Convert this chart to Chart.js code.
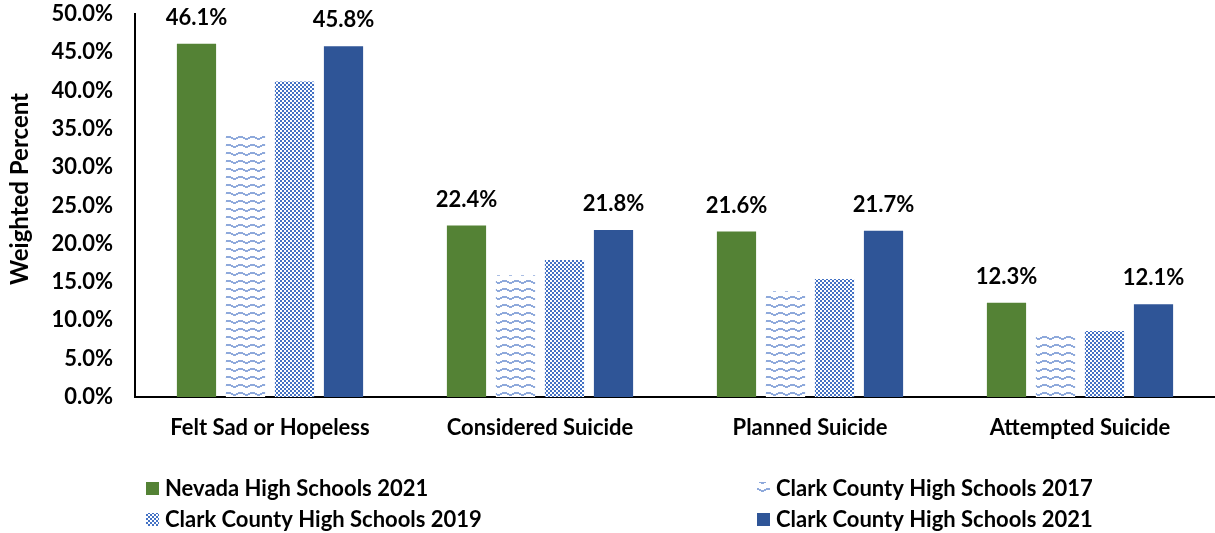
<!DOCTYPE html>
<html>
<head>
<meta charset="utf-8">
<script src="https://cdn.jsdelivr.net/npm/chart.js@4.4.0/dist/chart.umd.min.js"></script>
<style>
  html, body { margin: 0; padding: 0; background: #ffffff; }
  #wrap { width: 1215px; height: 533px; position: relative; }
</style>
</head>
<body>
<div id="wrap"><canvas id="chart" width="1215" height="533"></canvas></div>
<script>
// Categories and series (weighted percent)
const categories = ['Felt Sad or Hopeless', 'Considered Suicide', 'Planned Suicide', 'Attempted Suicide'];
const seriesNames = ['Nevada High Schools 2021', 'Clark County High Schools 2017', 'Clark County High Schools 2019', 'Clark County High Schools 2021'];
const nevada2021 = [46.1, 22.4, 21.6, 12.3];
const clark2017 = [34.4, 15.9, 13.8, 8.3];
const clark2019 = [41.2, 17.9, 15.4, 8.6];
const clark2021 = [45.8, 21.8, 21.7, 12.1];
const yTicks = [0, 5, 10, 15, 20, 25, 30, 35, 40, 45, 50];
const yTitle = 'Weighted Percent';

const FONT = 'Lato, Carlito, Calibri, "DejaVu Sans", sans-serif';

// Wavy line fill (light blue zigzag on white)
function wavePattern() {
  const c = document.createElement('canvas');
  c.width = 12; c.height = 8;
  const x = c.getContext('2d');
  x.fillStyle = '#ffffff'; x.fillRect(0, 0, 12, 8);
  x.fillStyle = '#8EA9DB';
  // [x, y, width] runs, each 2px tall
  const runs = [[0, 0, 3], [3, 1, 2], [5, 2, 3], [8, 1, 2], [10, 0, 2]];
  runs.forEach(([px, py, w]) => x.fillRect(px, py, w, 2));
  return x.createPattern(c, 'repeat');
}
// Small checkerboard fill
function checkPattern() {
  const c = document.createElement('canvas');
  c.width = 4; c.height = 4;
  const x = c.getContext('2d');
  x.fillStyle = '#ffffff'; x.fillRect(0, 0, 4, 4);
  x.fillStyle = '#4472C4';
  x.fillRect(0, 0, 2, 2); x.fillRect(2, 2, 2, 2);
  return x.createPattern(c, 'repeat');
}

const fills = ['#548235', wavePattern(), checkPattern(), '#2F5597'];
const seriesData = [nevada2021, clark2017, clark2019, clark2021];
const labelled = [true, false, false, true];

// Value labels above the solid bars
const valueLabels = {
  id: 'valueLabels',
  afterDatasetsDraw(chart) {
    const ctx = chart.ctx;
    ctx.save();
    ctx.font = 'bold 22px ' + FONT;
    ctx.fillStyle = '#000000';
    ctx.textAlign = 'center';
    ctx.textBaseline = 'middle';
    chart.data.datasets.forEach((ds, i) => {
      if (!labelled[i]) return;
      chart.getDatasetMeta(i).data.forEach((bar, j) => {
        ctx.fillText(ds.data[j].toFixed(1) + '%', bar.x, bar.y - 26);
      });
    });
    ctx.restore();
  }
};

// Vertical axis title
const axisTitle = {
  id: 'axisTitle',
  afterDraw(chart) {
    const ctx = chart.ctx;
    ctx.save();
    ctx.translate(20, 189);
    ctx.rotate(-Math.PI / 2);
    ctx.font = 'bold 24px ' + FONT;
    ctx.fillStyle = '#000000';
    ctx.textAlign = 'center';
    ctx.textBaseline = 'middle';
    ctx.fillText(yTitle, 0, 0);
    ctx.restore();
  }
};

// Two-column legend below the axis
const twoColLegend = {
  id: 'twoColLegend',
  afterDraw(chart) {
    const ctx = chart.ctx;
    const cols = [146, 757];
    const rows = [488, 519];
    ctx.save();
    ctx.font = 'bold 22px ' + FONT;
    ctx.textBaseline = 'middle';
    chart.data.datasets.forEach((ds, i) => {
      const cx = cols[i % 2];
      const cy = rows[Math.floor(i / 2)];
      ctx.fillStyle = ds.backgroundColor;
      ctx.fillRect(cx, cy - 6, 13, 13);
      ctx.fillStyle = '#000000';
      ctx.textAlign = 'left';
      ctx.fillText(ds.label, cx + 19, cy + 1);
    });
    ctx.restore();
  }
};

new Chart(document.getElementById('chart'), {
  type: 'bar',
  data: {
    labels: categories,
    datasets: seriesData.map((d, i) => ({
      label: seriesNames[i],
      data: d,
      backgroundColor: fills[i],
      borderWidth: 0,
      barPercentage: 0.8,
      categoryPercentage: 0.726
    }))
  },
  options: {
    responsive: false,
    animation: false,
    devicePixelRatio: 1,
    layout: { padding: { top: 14, right: 0, bottom: 90, left: 0 } },
    plugins: { legend: { display: false }, tooltip: { enabled: false } },
    scales: {
      x: {
        grid: { display: false, drawTicks: false },
        border: { display: true, color: '#000000', width: 2 },
        ticks: { color: '#000000', font: { family: FONT, size: 22, weight: 'bold' }, padding: 18, maxRotation: 0 },
        afterFit(s) { s.height = 46; }
      },
      y: {
        min: 0, max: 50,
        afterBuildTicks(s) { s.ticks = yTicks.map(v => ({ value: v })); },
        grid: { display: false, drawTicks: false },
        border: { display: true, color: '#000000', width: 2 },
        ticks: {
          color: '#000000',
          font: { family: FONT, size: 22, weight: 'bold' },
          padding: 22,
          callback: v => v.toFixed(1) + '%'
        },
        afterFit(s) {
          s.width = 135;
          s.paddingTop = 0;
          s.paddingBottom = 0;
        }
      }
    }
  },
  plugins: [valueLabels, axisTitle, twoColLegend]
});
</script>
</body>
</html>
